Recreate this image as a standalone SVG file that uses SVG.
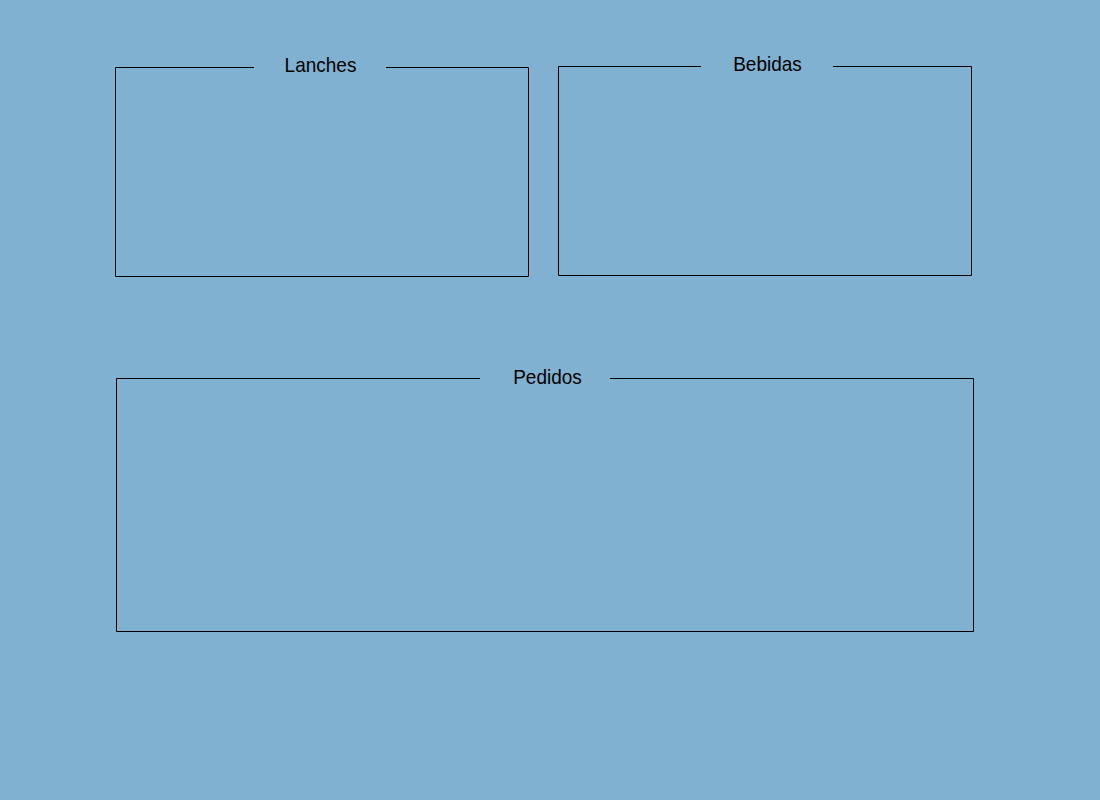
<svg xmlns="http://www.w3.org/2000/svg" width="1100" height="800" viewBox="0 0 1100 800">
<style>
.frame{fill:none;stroke:#000;stroke-width:1}
.legend{font-family:"Liberation Sans",Arial,sans-serif;font-size:20px;fill:#000;text-anchor:middle}
</style>
<rect x="0" y="0" width="1100" height="800" fill="#80B1D1"/>
<g id="lanches">
<path class="frame" d="M254,67.5 H115.5 V276.5 H528.5 V67.5 H386"/>
<text class="legend" x="320.5" y="72.5" transform="translate(320.5 0) scale(0.95 1) translate(-320.5 0)">Lanches</text>
</g>
<g id="bebidas">
<path class="frame" d="M701,66.5 H558.5 V275.5 H971.5 V66.5 H833"/>
<text class="legend" x="767.5" y="71.5" transform="translate(767.5 0) scale(0.95 1) translate(-767.5 0)">Bebidas</text>
</g>
<g id="pedidos">
<path class="frame" d="M480,378.5 H116.5 V631.5 H973.5 V378.5 H610"/>
<text class="legend" x="547.5" y="384.5" transform="translate(547.5 0) scale(0.95 1) translate(-547.5 0)">Pedidos</text>
</g>
<g id="connectors"></g>
</svg>
